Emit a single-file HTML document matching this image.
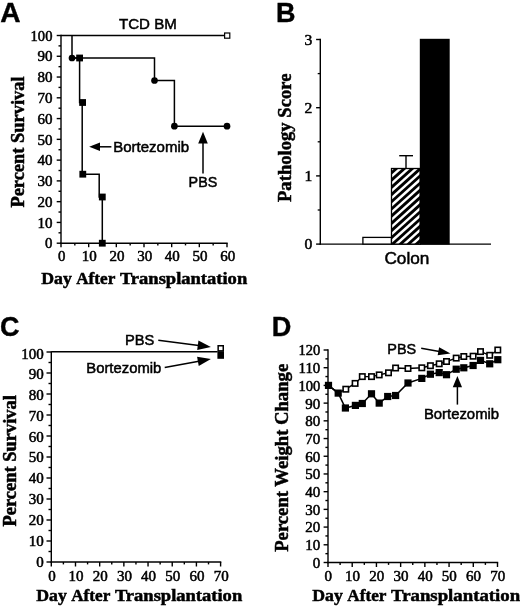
<!DOCTYPE html>
<html><head><meta charset="utf-8"><title>Figure</title>
<style>html,body{margin:0;padding:0;background:#fff;overflow:hidden}svg{display:block;will-change:transform}text{fill:#000}</style>
</head><body>
<svg width="520" height="607" viewBox="0 0 520 607">
<defs>
</defs>
<rect x="0" y="0" width="520" height="607" fill="#fff"/>
<g>
<!-- Panel A -->
<text x="0.30" y="22.40" font-family="Liberation Sans" font-size="27.5" font-weight="bold" text-anchor="start" stroke="#000" stroke-width="0.4" textLength="20.30" lengthAdjust="spacingAndGlyphs" >A</text>
<line x1="61.00" y1="34.80" x2="61.00" y2="243.90" stroke="#000" stroke-width="1.4" stroke-linecap="butt"/>
<line x1="60.30" y1="243.20" x2="227.70" y2="243.20" stroke="#000" stroke-width="1.4" stroke-linecap="butt"/>
<line x1="56.70" y1="243.20" x2="61.00" y2="243.20" stroke="#000" stroke-width="1.4" stroke-linecap="butt"/>
<text x="52.40" y="248.40" font-family="Liberation Serif" font-size="14" font-weight="normal" text-anchor="end" stroke="#000" stroke-width="0.5" textLength="7.40" lengthAdjust="spacingAndGlyphs" >0</text>
<line x1="58.50" y1="232.81" x2="61.00" y2="232.81" stroke="#000" stroke-width="1.4" stroke-linecap="butt"/>
<line x1="56.70" y1="222.43" x2="61.00" y2="222.43" stroke="#000" stroke-width="1.4" stroke-linecap="butt"/>
<text x="52.40" y="227.63" font-family="Liberation Serif" font-size="14" font-weight="normal" text-anchor="end" stroke="#000" stroke-width="0.5" textLength="15.00" lengthAdjust="spacingAndGlyphs" >10</text>
<line x1="58.50" y1="212.04" x2="61.00" y2="212.04" stroke="#000" stroke-width="1.4" stroke-linecap="butt"/>
<line x1="56.70" y1="201.66" x2="61.00" y2="201.66" stroke="#000" stroke-width="1.4" stroke-linecap="butt"/>
<text x="52.40" y="206.86" font-family="Liberation Serif" font-size="14" font-weight="normal" text-anchor="end" stroke="#000" stroke-width="0.5" textLength="15.00" lengthAdjust="spacingAndGlyphs" >20</text>
<line x1="58.50" y1="191.27" x2="61.00" y2="191.27" stroke="#000" stroke-width="1.4" stroke-linecap="butt"/>
<line x1="56.70" y1="180.89" x2="61.00" y2="180.89" stroke="#000" stroke-width="1.4" stroke-linecap="butt"/>
<text x="52.40" y="186.09" font-family="Liberation Serif" font-size="14" font-weight="normal" text-anchor="end" stroke="#000" stroke-width="0.5" textLength="15.00" lengthAdjust="spacingAndGlyphs" >30</text>
<line x1="58.50" y1="170.50" x2="61.00" y2="170.50" stroke="#000" stroke-width="1.4" stroke-linecap="butt"/>
<line x1="56.70" y1="160.12" x2="61.00" y2="160.12" stroke="#000" stroke-width="1.4" stroke-linecap="butt"/>
<text x="52.40" y="165.32" font-family="Liberation Serif" font-size="14" font-weight="normal" text-anchor="end" stroke="#000" stroke-width="0.5" textLength="15.00" lengthAdjust="spacingAndGlyphs" >40</text>
<line x1="58.50" y1="149.73" x2="61.00" y2="149.73" stroke="#000" stroke-width="1.4" stroke-linecap="butt"/>
<line x1="56.70" y1="139.35" x2="61.00" y2="139.35" stroke="#000" stroke-width="1.4" stroke-linecap="butt"/>
<text x="52.40" y="144.55" font-family="Liberation Serif" font-size="14" font-weight="normal" text-anchor="end" stroke="#000" stroke-width="0.5" textLength="15.00" lengthAdjust="spacingAndGlyphs" >50</text>
<line x1="58.50" y1="128.96" x2="61.00" y2="128.96" stroke="#000" stroke-width="1.4" stroke-linecap="butt"/>
<line x1="56.70" y1="118.58" x2="61.00" y2="118.58" stroke="#000" stroke-width="1.4" stroke-linecap="butt"/>
<text x="52.40" y="123.78" font-family="Liberation Serif" font-size="14" font-weight="normal" text-anchor="end" stroke="#000" stroke-width="0.5" textLength="15.00" lengthAdjust="spacingAndGlyphs" >60</text>
<line x1="58.50" y1="108.19" x2="61.00" y2="108.19" stroke="#000" stroke-width="1.4" stroke-linecap="butt"/>
<line x1="56.70" y1="97.81" x2="61.00" y2="97.81" stroke="#000" stroke-width="1.4" stroke-linecap="butt"/>
<text x="52.40" y="103.01" font-family="Liberation Serif" font-size="14" font-weight="normal" text-anchor="end" stroke="#000" stroke-width="0.5" textLength="15.00" lengthAdjust="spacingAndGlyphs" >70</text>
<line x1="58.50" y1="87.42" x2="61.00" y2="87.42" stroke="#000" stroke-width="1.4" stroke-linecap="butt"/>
<line x1="56.70" y1="77.04" x2="61.00" y2="77.04" stroke="#000" stroke-width="1.4" stroke-linecap="butt"/>
<text x="52.40" y="82.24" font-family="Liberation Serif" font-size="14" font-weight="normal" text-anchor="end" stroke="#000" stroke-width="0.5" textLength="15.00" lengthAdjust="spacingAndGlyphs" >80</text>
<line x1="58.50" y1="66.66" x2="61.00" y2="66.66" stroke="#000" stroke-width="1.4" stroke-linecap="butt"/>
<line x1="56.70" y1="56.27" x2="61.00" y2="56.27" stroke="#000" stroke-width="1.4" stroke-linecap="butt"/>
<text x="52.40" y="61.47" font-family="Liberation Serif" font-size="14" font-weight="normal" text-anchor="end" stroke="#000" stroke-width="0.5" textLength="15.00" lengthAdjust="spacingAndGlyphs" >90</text>
<line x1="58.50" y1="45.88" x2="61.00" y2="45.88" stroke="#000" stroke-width="1.4" stroke-linecap="butt"/>
<line x1="56.70" y1="35.50" x2="61.00" y2="35.50" stroke="#000" stroke-width="1.4" stroke-linecap="butt"/>
<text x="52.40" y="40.70" font-family="Liberation Serif" font-size="14" font-weight="normal" text-anchor="end" stroke="#000" stroke-width="0.5" textLength="21.80" lengthAdjust="spacingAndGlyphs" >100</text>
<line x1="61.00" y1="243.20" x2="61.00" y2="247.20" stroke="#000" stroke-width="1.4" stroke-linecap="butt"/>
<text x="61.70" y="261.10" font-family="Liberation Serif" font-size="14" font-weight="normal" text-anchor="middle" stroke="#000" stroke-width="0.5" textLength="7.40" lengthAdjust="spacingAndGlyphs" >0</text>
<line x1="74.83" y1="243.20" x2="74.83" y2="245.40" stroke="#000" stroke-width="1.4" stroke-linecap="butt"/>
<line x1="88.67" y1="243.20" x2="88.67" y2="247.20" stroke="#000" stroke-width="1.4" stroke-linecap="butt"/>
<text x="89.37" y="261.10" font-family="Liberation Serif" font-size="14" font-weight="normal" text-anchor="middle" stroke="#000" stroke-width="0.5" textLength="15.00" lengthAdjust="spacingAndGlyphs" >10</text>
<line x1="102.50" y1="243.20" x2="102.50" y2="245.40" stroke="#000" stroke-width="1.4" stroke-linecap="butt"/>
<line x1="116.33" y1="243.20" x2="116.33" y2="247.20" stroke="#000" stroke-width="1.4" stroke-linecap="butt"/>
<text x="117.03" y="261.10" font-family="Liberation Serif" font-size="14" font-weight="normal" text-anchor="middle" stroke="#000" stroke-width="0.5" textLength="15.00" lengthAdjust="spacingAndGlyphs" >20</text>
<line x1="130.17" y1="243.20" x2="130.17" y2="245.40" stroke="#000" stroke-width="1.4" stroke-linecap="butt"/>
<line x1="144.00" y1="243.20" x2="144.00" y2="247.20" stroke="#000" stroke-width="1.4" stroke-linecap="butt"/>
<text x="144.70" y="261.10" font-family="Liberation Serif" font-size="14" font-weight="normal" text-anchor="middle" stroke="#000" stroke-width="0.5" textLength="15.00" lengthAdjust="spacingAndGlyphs" >30</text>
<line x1="157.83" y1="243.20" x2="157.83" y2="245.40" stroke="#000" stroke-width="1.4" stroke-linecap="butt"/>
<line x1="171.67" y1="243.20" x2="171.67" y2="247.20" stroke="#000" stroke-width="1.4" stroke-linecap="butt"/>
<text x="172.37" y="261.10" font-family="Liberation Serif" font-size="14" font-weight="normal" text-anchor="middle" stroke="#000" stroke-width="0.5" textLength="15.00" lengthAdjust="spacingAndGlyphs" >40</text>
<line x1="185.50" y1="243.20" x2="185.50" y2="245.40" stroke="#000" stroke-width="1.4" stroke-linecap="butt"/>
<line x1="199.33" y1="243.20" x2="199.33" y2="247.20" stroke="#000" stroke-width="1.4" stroke-linecap="butt"/>
<text x="200.03" y="261.10" font-family="Liberation Serif" font-size="14" font-weight="normal" text-anchor="middle" stroke="#000" stroke-width="0.5" textLength="15.00" lengthAdjust="spacingAndGlyphs" >50</text>
<line x1="213.17" y1="243.20" x2="213.17" y2="245.40" stroke="#000" stroke-width="1.4" stroke-linecap="butt"/>
<line x1="227.00" y1="243.20" x2="227.00" y2="247.20" stroke="#000" stroke-width="1.4" stroke-linecap="butt"/>
<text x="227.70" y="261.10" font-family="Liberation Serif" font-size="14" font-weight="normal" text-anchor="middle" stroke="#000" stroke-width="0.5" textLength="15.00" lengthAdjust="spacingAndGlyphs" >60</text>
<line x1="61.00" y1="35.50" x2="224.00" y2="35.50" stroke="#000" stroke-width="1.5" stroke-linecap="butt"/>
<rect x="224.60" y="33.00" width="5.20" height="5.20" fill="#fff" stroke="#000" stroke-width="1.2"/>
<text x="119.00" y="29.20" font-family="Liberation Sans" font-size="15" font-weight="normal" text-anchor="start" stroke="#000" stroke-width="0.5" textLength="57.80" lengthAdjust="spacingAndGlyphs" >TCD BM</text>
<polyline fill="none" stroke="#000" stroke-width="1.5" stroke-linejoin="miter" points="72.00,35.50 72.00,58.00 154.50,58.00 154.50,80.50 174.40,80.50 174.40,126.20 227.00,126.20"/>
<circle cx="72.00" cy="58.00" r="3.35" fill="#000"/>
<circle cx="154.50" cy="80.50" r="3.35" fill="#000"/>
<circle cx="174.40" cy="126.20" r="3.35" fill="#000"/>
<circle cx="227.00" cy="126.20" r="3.35" fill="#000"/>
<polyline fill="none" stroke="#000" stroke-width="1.5" stroke-linejoin="miter" points="72.00,58.00 79.60,58.00 79.60,102.50 82.20,102.50 82.20,174.20 99.20,174.20 99.20,197.00 102.30,197.00 102.30,243.20"/>
<rect x="76.20" y="54.60" width="6.80" height="6.80" fill="#000"/>
<rect x="79.20" y="99.10" width="6.80" height="6.80" fill="#000"/>
<rect x="79.40" y="170.80" width="6.80" height="6.80" fill="#000"/>
<rect x="98.90" y="193.60" width="6.80" height="6.80" fill="#000"/>
<rect x="98.90" y="239.80" width="6.80" height="6.80" fill="#000"/>
<line x1="111.40" y1="146.80" x2="99.00" y2="146.80" stroke="#000" stroke-width="1.5" stroke-linecap="butt"/>
<polygon points="89.20,146.80 100.00,142.50 100.00,151.10" fill="#000"/>
<text x="113.20" y="152.00" font-family="Liberation Sans" font-size="15" font-weight="normal" text-anchor="start" stroke="#000" stroke-width="0.5" textLength="76.00" lengthAdjust="spacingAndGlyphs" >Bortezomib</text>
<line x1="203.00" y1="173.60" x2="203.00" y2="142.50" stroke="#000" stroke-width="1.5" stroke-linecap="butt"/>
<polygon points="203.00,131.80 207.80,143.50 198.20,143.50" fill="#000"/>
<text x="188.60" y="187.30" font-family="Liberation Sans" font-size="15" font-weight="normal" text-anchor="start" stroke="#000" stroke-width="0.5" textLength="28.60" lengthAdjust="spacingAndGlyphs" >PBS</text>
<text x="41.20" y="283.60" font-family="Liberation Serif" font-size="17.2" font-weight="bold" text-anchor="start" stroke="#000" stroke-width="0.5" textLength="30.60" lengthAdjust="spacingAndGlyphs" >Day</text>
<text x="76.20" y="283.60" font-family="Liberation Serif" font-size="17.2" font-weight="bold" text-anchor="start" stroke="#000" stroke-width="0.5" textLength="39.10" lengthAdjust="spacingAndGlyphs" >After</text>
<text x="119.90" y="283.60" font-family="Liberation Serif" font-size="17.2" font-weight="bold" text-anchor="start" stroke="#000" stroke-width="0.5" textLength="127.30" lengthAdjust="spacingAndGlyphs" >Transplantation</text>
<text transform="translate(24.20,207.60) rotate(-90)" x="0" y="0" font-family="Liberation Serif" font-size="19.2" font-weight="bold" stroke="#000" stroke-width="0.5" textLength="131.20" lengthAdjust="spacingAndGlyphs">Percent Survival</text>
<!-- Panel B -->
<text x="275.90" y="22.40" font-family="Liberation Sans" font-size="27.5" font-weight="bold" text-anchor="start" stroke="#000" stroke-width="0.4" textLength="19.50" lengthAdjust="spacingAndGlyphs" >B</text>
<line x1="320.30" y1="38.80" x2="320.30" y2="244.80" stroke="#000" stroke-width="1.4" stroke-linecap="butt"/>
<line x1="319.60" y1="244.10" x2="491.00" y2="244.10" stroke="#000" stroke-width="1.4" stroke-linecap="butt"/>
<line x1="316.10" y1="244.10" x2="320.30" y2="244.10" stroke="#000" stroke-width="1.4" stroke-linecap="butt"/>
<text x="312.20" y="249.40" font-family="Liberation Serif" font-size="14.5" font-weight="normal" text-anchor="end" stroke="#000" stroke-width="0.5" textLength="7.80" lengthAdjust="spacingAndGlyphs" >0</text>
<line x1="317.70" y1="210.00" x2="320.30" y2="210.00" stroke="#000" stroke-width="1.3" stroke-linecap="butt"/>
<line x1="316.10" y1="175.90" x2="320.30" y2="175.90" stroke="#000" stroke-width="1.4" stroke-linecap="butt"/>
<text x="312.20" y="181.20" font-family="Liberation Serif" font-size="14.5" font-weight="normal" text-anchor="end" stroke="#000" stroke-width="0.5" textLength="7.80" lengthAdjust="spacingAndGlyphs" >1</text>
<line x1="317.70" y1="141.80" x2="320.30" y2="141.80" stroke="#000" stroke-width="1.3" stroke-linecap="butt"/>
<line x1="316.10" y1="107.70" x2="320.30" y2="107.70" stroke="#000" stroke-width="1.4" stroke-linecap="butt"/>
<text x="312.20" y="113.00" font-family="Liberation Serif" font-size="14.5" font-weight="normal" text-anchor="end" stroke="#000" stroke-width="0.5" textLength="7.80" lengthAdjust="spacingAndGlyphs" >2</text>
<line x1="317.70" y1="73.60" x2="320.30" y2="73.60" stroke="#000" stroke-width="1.3" stroke-linecap="butt"/>
<line x1="316.10" y1="39.50" x2="320.30" y2="39.50" stroke="#000" stroke-width="1.4" stroke-linecap="butt"/>
<text x="312.20" y="44.80" font-family="Liberation Serif" font-size="14.5" font-weight="normal" text-anchor="end" stroke="#000" stroke-width="0.5" textLength="7.80" lengthAdjust="spacingAndGlyphs" >3</text>
<rect x="362.9" y="237.4" width="28.6" height="6.70" fill="#fff" stroke="#000" stroke-width="1.3"/>
<clipPath id="hc"><rect x="391.5" y="168.5" width="28.7" height="75.60"/></clipPath>
<rect x="391.5" y="168.5" width="28.7" height="75.60" fill="#000"/>
<g clip-path="url(#hc)" stroke="#fff" stroke-width="2.45"><line x1="387.58" y1="158.45" x2="424.74" y2="124.99"/><line x1="387.58" y1="165.65" x2="424.74" y2="132.19"/><line x1="387.58" y1="172.85" x2="424.74" y2="139.39"/><line x1="387.58" y1="180.05" x2="424.74" y2="146.59"/><line x1="387.58" y1="187.25" x2="424.74" y2="153.79"/><line x1="387.58" y1="194.45" x2="424.74" y2="160.99"/><line x1="387.58" y1="201.65" x2="424.74" y2="168.19"/><line x1="387.58" y1="208.85" x2="424.74" y2="175.39"/><line x1="387.58" y1="216.05" x2="424.74" y2="182.59"/><line x1="387.58" y1="223.25" x2="424.74" y2="189.79"/><line x1="387.58" y1="230.45" x2="424.74" y2="196.99"/><line x1="387.58" y1="237.65" x2="424.74" y2="204.19"/><line x1="387.58" y1="244.85" x2="424.74" y2="211.39"/><line x1="387.58" y1="252.05" x2="424.74" y2="218.59"/><line x1="387.58" y1="259.25" x2="424.74" y2="225.79"/><line x1="387.58" y1="266.45" x2="424.74" y2="232.99"/><line x1="387.58" y1="273.65" x2="424.74" y2="240.19"/><line x1="387.58" y1="280.85" x2="424.74" y2="247.39"/><line x1="387.58" y1="288.05" x2="424.74" y2="254.59"/></g>
<rect x="391.5" y="168.5" width="28.7" height="75.60" fill="none" stroke="#000" stroke-width="1.3"/>
<rect x="419.8" y="38.8" width="29.9" height="205.80" fill="#000"/>
<line x1="406.00" y1="168.50" x2="406.00" y2="155.70" stroke="#000" stroke-width="1.4" stroke-linecap="butt"/>
<line x1="399.20" y1="155.70" x2="413.00" y2="155.70" stroke="#000" stroke-width="1.4" stroke-linecap="butt"/>
<text x="384.40" y="264.30" font-family="Liberation Sans" font-size="17" font-weight="normal" text-anchor="start" stroke="#000" stroke-width="0.5" textLength="45.00" lengthAdjust="spacingAndGlyphs" >Colon</text>
<text transform="translate(291.10,202.00) rotate(-90)" x="0" y="0" font-family="Liberation Serif" font-size="18.5" font-weight="bold" stroke="#000" stroke-width="0.5" textLength="128.40" lengthAdjust="spacingAndGlyphs">Pathology Score</text>
<!-- Panel C -->
<text x="-0.10" y="336.10" font-family="Liberation Sans" font-size="27.5" font-weight="bold" text-anchor="start" stroke="#000" stroke-width="0.4" textLength="19.50" lengthAdjust="spacingAndGlyphs" >C</text>
<line x1="51.30" y1="351.30" x2="51.30" y2="562.70" stroke="#000" stroke-width="1.4" stroke-linecap="butt"/>
<line x1="50.60" y1="562.00" x2="221.30" y2="562.00" stroke="#000" stroke-width="1.4" stroke-linecap="butt"/>
<line x1="46.50" y1="562.00" x2="51.30" y2="562.00" stroke="#000" stroke-width="1.4" stroke-linecap="butt"/>
<text x="43.80" y="567.00" font-family="Liberation Serif" font-size="14" font-weight="normal" text-anchor="end" stroke="#000" stroke-width="0.5" textLength="7.50" lengthAdjust="spacingAndGlyphs" >0</text>
<line x1="48.50" y1="551.50" x2="51.30" y2="551.50" stroke="#000" stroke-width="1.4" stroke-linecap="butt"/>
<line x1="46.50" y1="541.00" x2="51.30" y2="541.00" stroke="#000" stroke-width="1.4" stroke-linecap="butt"/>
<text x="43.80" y="546.00" font-family="Liberation Serif" font-size="14" font-weight="normal" text-anchor="end" stroke="#000" stroke-width="0.5" textLength="15.00" lengthAdjust="spacingAndGlyphs" >10</text>
<line x1="48.50" y1="530.50" x2="51.30" y2="530.50" stroke="#000" stroke-width="1.4" stroke-linecap="butt"/>
<line x1="46.50" y1="520.00" x2="51.30" y2="520.00" stroke="#000" stroke-width="1.4" stroke-linecap="butt"/>
<text x="43.80" y="525.00" font-family="Liberation Serif" font-size="14" font-weight="normal" text-anchor="end" stroke="#000" stroke-width="0.5" textLength="15.00" lengthAdjust="spacingAndGlyphs" >20</text>
<line x1="48.50" y1="509.50" x2="51.30" y2="509.50" stroke="#000" stroke-width="1.4" stroke-linecap="butt"/>
<line x1="46.50" y1="499.00" x2="51.30" y2="499.00" stroke="#000" stroke-width="1.4" stroke-linecap="butt"/>
<text x="43.80" y="504.00" font-family="Liberation Serif" font-size="14" font-weight="normal" text-anchor="end" stroke="#000" stroke-width="0.5" textLength="15.00" lengthAdjust="spacingAndGlyphs" >30</text>
<line x1="48.50" y1="488.50" x2="51.30" y2="488.50" stroke="#000" stroke-width="1.4" stroke-linecap="butt"/>
<line x1="46.50" y1="478.00" x2="51.30" y2="478.00" stroke="#000" stroke-width="1.4" stroke-linecap="butt"/>
<text x="43.80" y="483.00" font-family="Liberation Serif" font-size="14" font-weight="normal" text-anchor="end" stroke="#000" stroke-width="0.5" textLength="15.00" lengthAdjust="spacingAndGlyphs" >40</text>
<line x1="48.50" y1="467.50" x2="51.30" y2="467.50" stroke="#000" stroke-width="1.4" stroke-linecap="butt"/>
<line x1="46.50" y1="457.00" x2="51.30" y2="457.00" stroke="#000" stroke-width="1.4" stroke-linecap="butt"/>
<text x="43.80" y="462.45" font-family="Liberation Serif" font-size="14" font-weight="normal" text-anchor="end" stroke="#000" stroke-width="0.5" textLength="15.00" lengthAdjust="spacingAndGlyphs" >50</text>
<line x1="48.50" y1="446.50" x2="51.30" y2="446.50" stroke="#000" stroke-width="1.4" stroke-linecap="butt"/>
<line x1="46.50" y1="436.00" x2="51.30" y2="436.00" stroke="#000" stroke-width="1.4" stroke-linecap="butt"/>
<text x="43.80" y="441.90" font-family="Liberation Serif" font-size="14" font-weight="normal" text-anchor="end" stroke="#000" stroke-width="0.5" textLength="15.00" lengthAdjust="spacingAndGlyphs" >60</text>
<line x1="48.50" y1="425.50" x2="51.30" y2="425.50" stroke="#000" stroke-width="1.4" stroke-linecap="butt"/>
<line x1="46.50" y1="415.00" x2="51.30" y2="415.00" stroke="#000" stroke-width="1.4" stroke-linecap="butt"/>
<text x="43.80" y="420.90" font-family="Liberation Serif" font-size="14" font-weight="normal" text-anchor="end" stroke="#000" stroke-width="0.5" textLength="15.00" lengthAdjust="spacingAndGlyphs" >70</text>
<line x1="48.50" y1="404.50" x2="51.30" y2="404.50" stroke="#000" stroke-width="1.4" stroke-linecap="butt"/>
<line x1="46.50" y1="394.00" x2="51.30" y2="394.00" stroke="#000" stroke-width="1.4" stroke-linecap="butt"/>
<text x="43.80" y="399.90" font-family="Liberation Serif" font-size="14" font-weight="normal" text-anchor="end" stroke="#000" stroke-width="0.5" textLength="15.00" lengthAdjust="spacingAndGlyphs" >80</text>
<line x1="48.50" y1="383.50" x2="51.30" y2="383.50" stroke="#000" stroke-width="1.4" stroke-linecap="butt"/>
<line x1="46.50" y1="373.00" x2="51.30" y2="373.00" stroke="#000" stroke-width="1.4" stroke-linecap="butt"/>
<text x="43.80" y="378.90" font-family="Liberation Serif" font-size="14" font-weight="normal" text-anchor="end" stroke="#000" stroke-width="0.5" textLength="15.00" lengthAdjust="spacingAndGlyphs" >90</text>
<line x1="48.50" y1="362.50" x2="51.30" y2="362.50" stroke="#000" stroke-width="1.4" stroke-linecap="butt"/>
<line x1="46.50" y1="352.00" x2="51.30" y2="352.00" stroke="#000" stroke-width="1.4" stroke-linecap="butt"/>
<text x="43.80" y="358.90" font-family="Liberation Serif" font-size="14" font-weight="normal" text-anchor="end" stroke="#000" stroke-width="0.5" textLength="22.50" lengthAdjust="spacingAndGlyphs" >100</text>
<line x1="51.30" y1="562.00" x2="51.30" y2="566.50" stroke="#000" stroke-width="1.4" stroke-linecap="butt"/>
<text x="51.90" y="580.60" font-family="Liberation Serif" font-size="14" font-weight="normal" text-anchor="middle" stroke="#000" stroke-width="0.5" textLength="7.50" lengthAdjust="spacingAndGlyphs" >0</text>
<line x1="63.39" y1="562.00" x2="63.39" y2="564.40" stroke="#000" stroke-width="1.4" stroke-linecap="butt"/>
<line x1="75.49" y1="562.00" x2="75.49" y2="566.50" stroke="#000" stroke-width="1.4" stroke-linecap="butt"/>
<text x="76.09" y="580.60" font-family="Liberation Serif" font-size="14" font-weight="normal" text-anchor="middle" stroke="#000" stroke-width="0.5" textLength="15.00" lengthAdjust="spacingAndGlyphs" >10</text>
<line x1="87.58" y1="562.00" x2="87.58" y2="564.40" stroke="#000" stroke-width="1.4" stroke-linecap="butt"/>
<line x1="99.67" y1="562.00" x2="99.67" y2="566.50" stroke="#000" stroke-width="1.4" stroke-linecap="butt"/>
<text x="100.27" y="580.60" font-family="Liberation Serif" font-size="14" font-weight="normal" text-anchor="middle" stroke="#000" stroke-width="0.5" textLength="15.00" lengthAdjust="spacingAndGlyphs" >20</text>
<line x1="111.76" y1="562.00" x2="111.76" y2="564.40" stroke="#000" stroke-width="1.4" stroke-linecap="butt"/>
<line x1="123.86" y1="562.00" x2="123.86" y2="566.50" stroke="#000" stroke-width="1.4" stroke-linecap="butt"/>
<text x="124.46" y="580.60" font-family="Liberation Serif" font-size="14" font-weight="normal" text-anchor="middle" stroke="#000" stroke-width="0.5" textLength="15.00" lengthAdjust="spacingAndGlyphs" >30</text>
<line x1="135.95" y1="562.00" x2="135.95" y2="564.40" stroke="#000" stroke-width="1.4" stroke-linecap="butt"/>
<line x1="148.04" y1="562.00" x2="148.04" y2="566.50" stroke="#000" stroke-width="1.4" stroke-linecap="butt"/>
<text x="148.64" y="580.60" font-family="Liberation Serif" font-size="14" font-weight="normal" text-anchor="middle" stroke="#000" stroke-width="0.5" textLength="15.00" lengthAdjust="spacingAndGlyphs" >40</text>
<line x1="160.14" y1="562.00" x2="160.14" y2="564.40" stroke="#000" stroke-width="1.4" stroke-linecap="butt"/>
<line x1="172.23" y1="562.00" x2="172.23" y2="566.50" stroke="#000" stroke-width="1.4" stroke-linecap="butt"/>
<text x="172.83" y="580.60" font-family="Liberation Serif" font-size="14" font-weight="normal" text-anchor="middle" stroke="#000" stroke-width="0.5" textLength="15.00" lengthAdjust="spacingAndGlyphs" >50</text>
<line x1="184.32" y1="562.00" x2="184.32" y2="564.40" stroke="#000" stroke-width="1.4" stroke-linecap="butt"/>
<line x1="196.41" y1="562.00" x2="196.41" y2="566.50" stroke="#000" stroke-width="1.4" stroke-linecap="butt"/>
<text x="197.01" y="580.60" font-family="Liberation Serif" font-size="14" font-weight="normal" text-anchor="middle" stroke="#000" stroke-width="0.5" textLength="15.00" lengthAdjust="spacingAndGlyphs" >60</text>
<line x1="208.51" y1="562.00" x2="208.51" y2="564.40" stroke="#000" stroke-width="1.4" stroke-linecap="butt"/>
<line x1="220.60" y1="562.00" x2="220.60" y2="566.50" stroke="#000" stroke-width="1.4" stroke-linecap="butt"/>
<text x="221.20" y="580.60" font-family="Liberation Serif" font-size="14" font-weight="normal" text-anchor="middle" stroke="#000" stroke-width="0.5" textLength="15.00" lengthAdjust="spacingAndGlyphs" >70</text>
<line x1="51.30" y1="351.80" x2="217.50" y2="351.80" stroke="#000" stroke-width="1.6" stroke-linecap="butt"/>
<rect x="218.15" y="345.75" width="5.10" height="5.10" fill="#fff" stroke="#000" stroke-width="1.5"/>
<rect x="217.40" y="351.20" width="6.60" height="7.60" fill="#000"/>
<text x="125.00" y="345.00" font-family="Liberation Sans" font-size="15" font-weight="normal" text-anchor="start" stroke="#000" stroke-width="0.5" textLength="29.30" lengthAdjust="spacingAndGlyphs" >PBS</text>
<text x="86.30" y="372.60" font-family="Liberation Sans" font-size="15" font-weight="normal" text-anchor="start" stroke="#000" stroke-width="0.5" textLength="75.00" lengthAdjust="spacingAndGlyphs" >Bortezomib</text>
<line x1="158.30" y1="340.20" x2="198.80" y2="345.44" stroke="#000" stroke-width="1.5" stroke-linecap="butt"/>
<polygon points="210.90,347.00 197.20,350.02 198.42,340.60" fill="#000"/>
<line x1="164.70" y1="367.40" x2="198.89" y2="361.26" stroke="#000" stroke-width="1.5" stroke-linecap="butt"/>
<polygon points="210.90,359.10 198.75,366.11 197.07,356.76" fill="#000"/>
<text x="36.20" y="600.50" font-family="Liberation Serif" font-size="17.2" font-weight="bold" text-anchor="start" stroke="#000" stroke-width="0.5" textLength="30.60" lengthAdjust="spacingAndGlyphs" >Day</text>
<text x="71.20" y="600.50" font-family="Liberation Serif" font-size="17.2" font-weight="bold" text-anchor="start" stroke="#000" stroke-width="0.5" textLength="39.10" lengthAdjust="spacingAndGlyphs" >After</text>
<text x="114.90" y="600.50" font-family="Liberation Serif" font-size="17.2" font-weight="bold" text-anchor="start" stroke="#000" stroke-width="0.5" textLength="127.30" lengthAdjust="spacingAndGlyphs" >Transplantation</text>
<text transform="translate(15.50,526.60) rotate(-90)" x="0" y="0" font-family="Liberation Serif" font-size="17.8" font-weight="bold" stroke="#000" stroke-width="0.5" textLength="131.60" lengthAdjust="spacingAndGlyphs">Percent Survival</text>
<!-- Panel D -->
<text x="271.70" y="336.00" font-family="Liberation Sans" font-size="27.5" font-weight="bold" text-anchor="start" stroke="#000" stroke-width="0.4" textLength="19.60" lengthAdjust="spacingAndGlyphs" >D</text>
<line x1="328.00" y1="349.30" x2="328.00" y2="563.20" stroke="#000" stroke-width="1.4" stroke-linecap="butt"/>
<line x1="327.30" y1="562.50" x2="498.20" y2="562.50" stroke="#000" stroke-width="1.4" stroke-linecap="butt"/>
<line x1="323.60" y1="562.50" x2="328.00" y2="562.50" stroke="#000" stroke-width="1.4" stroke-linecap="butt"/>
<text x="320.30" y="567.90" font-family="Liberation Serif" font-size="14" font-weight="normal" text-anchor="end" stroke="#000" stroke-width="0.5" textLength="7.50" lengthAdjust="spacingAndGlyphs" >0</text>
<line x1="325.40" y1="553.65" x2="328.00" y2="553.65" stroke="#000" stroke-width="1.4" stroke-linecap="butt"/>
<line x1="323.60" y1="544.79" x2="328.00" y2="544.79" stroke="#000" stroke-width="1.4" stroke-linecap="butt"/>
<text x="320.30" y="550.19" font-family="Liberation Serif" font-size="14" font-weight="normal" text-anchor="end" stroke="#000" stroke-width="0.5" textLength="15.00" lengthAdjust="spacingAndGlyphs" >10</text>
<line x1="325.40" y1="535.94" x2="328.00" y2="535.94" stroke="#000" stroke-width="1.4" stroke-linecap="butt"/>
<line x1="323.60" y1="527.08" x2="328.00" y2="527.08" stroke="#000" stroke-width="1.4" stroke-linecap="butt"/>
<text x="320.30" y="532.48" font-family="Liberation Serif" font-size="14" font-weight="normal" text-anchor="end" stroke="#000" stroke-width="0.5" textLength="15.00" lengthAdjust="spacingAndGlyphs" >20</text>
<line x1="325.40" y1="518.23" x2="328.00" y2="518.23" stroke="#000" stroke-width="1.4" stroke-linecap="butt"/>
<line x1="323.60" y1="509.38" x2="328.00" y2="509.38" stroke="#000" stroke-width="1.4" stroke-linecap="butt"/>
<text x="320.30" y="514.77" font-family="Liberation Serif" font-size="14" font-weight="normal" text-anchor="end" stroke="#000" stroke-width="0.5" textLength="15.00" lengthAdjust="spacingAndGlyphs" >30</text>
<line x1="325.40" y1="500.52" x2="328.00" y2="500.52" stroke="#000" stroke-width="1.4" stroke-linecap="butt"/>
<line x1="323.60" y1="491.67" x2="328.00" y2="491.67" stroke="#000" stroke-width="1.4" stroke-linecap="butt"/>
<text x="320.30" y="497.07" font-family="Liberation Serif" font-size="14" font-weight="normal" text-anchor="end" stroke="#000" stroke-width="0.5" textLength="15.00" lengthAdjust="spacingAndGlyphs" >40</text>
<line x1="325.40" y1="482.81" x2="328.00" y2="482.81" stroke="#000" stroke-width="1.4" stroke-linecap="butt"/>
<line x1="323.60" y1="473.96" x2="328.00" y2="473.96" stroke="#000" stroke-width="1.4" stroke-linecap="butt"/>
<text x="320.30" y="479.36" font-family="Liberation Serif" font-size="14" font-weight="normal" text-anchor="end" stroke="#000" stroke-width="0.5" textLength="15.00" lengthAdjust="spacingAndGlyphs" >50</text>
<line x1="325.40" y1="465.10" x2="328.00" y2="465.10" stroke="#000" stroke-width="1.4" stroke-linecap="butt"/>
<line x1="323.60" y1="456.25" x2="328.00" y2="456.25" stroke="#000" stroke-width="1.4" stroke-linecap="butt"/>
<text x="320.30" y="461.65" font-family="Liberation Serif" font-size="14" font-weight="normal" text-anchor="end" stroke="#000" stroke-width="0.5" textLength="15.00" lengthAdjust="spacingAndGlyphs" >60</text>
<line x1="325.40" y1="447.40" x2="328.00" y2="447.40" stroke="#000" stroke-width="1.4" stroke-linecap="butt"/>
<line x1="323.60" y1="438.54" x2="328.00" y2="438.54" stroke="#000" stroke-width="1.4" stroke-linecap="butt"/>
<text x="320.30" y="443.94" font-family="Liberation Serif" font-size="14" font-weight="normal" text-anchor="end" stroke="#000" stroke-width="0.5" textLength="15.00" lengthAdjust="spacingAndGlyphs" >70</text>
<line x1="325.40" y1="429.69" x2="328.00" y2="429.69" stroke="#000" stroke-width="1.4" stroke-linecap="butt"/>
<line x1="323.60" y1="420.83" x2="328.00" y2="420.83" stroke="#000" stroke-width="1.4" stroke-linecap="butt"/>
<text x="320.30" y="426.23" font-family="Liberation Serif" font-size="14" font-weight="normal" text-anchor="end" stroke="#000" stroke-width="0.5" textLength="15.00" lengthAdjust="spacingAndGlyphs" >80</text>
<line x1="325.40" y1="411.98" x2="328.00" y2="411.98" stroke="#000" stroke-width="1.4" stroke-linecap="butt"/>
<line x1="323.60" y1="403.12" x2="328.00" y2="403.12" stroke="#000" stroke-width="1.4" stroke-linecap="butt"/>
<text x="320.30" y="408.52" font-family="Liberation Serif" font-size="14" font-weight="normal" text-anchor="end" stroke="#000" stroke-width="0.5" textLength="15.00" lengthAdjust="spacingAndGlyphs" >90</text>
<line x1="325.40" y1="394.27" x2="328.00" y2="394.27" stroke="#000" stroke-width="1.4" stroke-linecap="butt"/>
<line x1="323.60" y1="385.42" x2="328.00" y2="385.42" stroke="#000" stroke-width="1.4" stroke-linecap="butt"/>
<text x="320.30" y="390.82" font-family="Liberation Serif" font-size="14" font-weight="normal" text-anchor="end" stroke="#000" stroke-width="0.5" textLength="21.80" lengthAdjust="spacingAndGlyphs" >100</text>
<line x1="325.40" y1="376.56" x2="328.00" y2="376.56" stroke="#000" stroke-width="1.4" stroke-linecap="butt"/>
<line x1="323.60" y1="367.71" x2="328.00" y2="367.71" stroke="#000" stroke-width="1.4" stroke-linecap="butt"/>
<text x="320.30" y="373.11" font-family="Liberation Serif" font-size="14" font-weight="normal" text-anchor="end" stroke="#000" stroke-width="0.5" textLength="21.80" lengthAdjust="spacingAndGlyphs" >110</text>
<line x1="325.40" y1="358.85" x2="328.00" y2="358.85" stroke="#000" stroke-width="1.4" stroke-linecap="butt"/>
<line x1="323.60" y1="350.00" x2="328.00" y2="350.00" stroke="#000" stroke-width="1.4" stroke-linecap="butt"/>
<text x="320.30" y="355.40" font-family="Liberation Serif" font-size="14" font-weight="normal" text-anchor="end" stroke="#000" stroke-width="0.5" textLength="21.80" lengthAdjust="spacingAndGlyphs" >120</text>
<line x1="328.00" y1="562.50" x2="328.00" y2="567.00" stroke="#000" stroke-width="1.4" stroke-linecap="butt"/>
<text x="328.30" y="581.40" font-family="Liberation Serif" font-size="14" font-weight="normal" text-anchor="middle" stroke="#000" stroke-width="0.5" textLength="7.50" lengthAdjust="spacingAndGlyphs" >0</text>
<line x1="340.11" y1="562.50" x2="340.11" y2="564.90" stroke="#000" stroke-width="1.4" stroke-linecap="butt"/>
<line x1="352.21" y1="562.50" x2="352.21" y2="567.00" stroke="#000" stroke-width="1.4" stroke-linecap="butt"/>
<text x="352.51" y="581.40" font-family="Liberation Serif" font-size="14" font-weight="normal" text-anchor="middle" stroke="#000" stroke-width="0.5" textLength="15.00" lengthAdjust="spacingAndGlyphs" >10</text>
<line x1="364.32" y1="562.50" x2="364.32" y2="564.90" stroke="#000" stroke-width="1.4" stroke-linecap="butt"/>
<line x1="376.43" y1="562.50" x2="376.43" y2="567.00" stroke="#000" stroke-width="1.4" stroke-linecap="butt"/>
<text x="376.73" y="581.40" font-family="Liberation Serif" font-size="14" font-weight="normal" text-anchor="middle" stroke="#000" stroke-width="0.5" textLength="15.00" lengthAdjust="spacingAndGlyphs" >20</text>
<line x1="388.54" y1="562.50" x2="388.54" y2="564.90" stroke="#000" stroke-width="1.4" stroke-linecap="butt"/>
<line x1="400.64" y1="562.50" x2="400.64" y2="567.00" stroke="#000" stroke-width="1.4" stroke-linecap="butt"/>
<text x="400.94" y="581.40" font-family="Liberation Serif" font-size="14" font-weight="normal" text-anchor="middle" stroke="#000" stroke-width="0.5" textLength="15.00" lengthAdjust="spacingAndGlyphs" >30</text>
<line x1="412.75" y1="562.50" x2="412.75" y2="564.90" stroke="#000" stroke-width="1.4" stroke-linecap="butt"/>
<line x1="424.86" y1="562.50" x2="424.86" y2="567.00" stroke="#000" stroke-width="1.4" stroke-linecap="butt"/>
<text x="425.16" y="581.40" font-family="Liberation Serif" font-size="14" font-weight="normal" text-anchor="middle" stroke="#000" stroke-width="0.5" textLength="15.00" lengthAdjust="spacingAndGlyphs" >40</text>
<line x1="436.96" y1="562.50" x2="436.96" y2="564.90" stroke="#000" stroke-width="1.4" stroke-linecap="butt"/>
<line x1="449.07" y1="562.50" x2="449.07" y2="567.00" stroke="#000" stroke-width="1.4" stroke-linecap="butt"/>
<text x="449.37" y="581.40" font-family="Liberation Serif" font-size="14" font-weight="normal" text-anchor="middle" stroke="#000" stroke-width="0.5" textLength="15.00" lengthAdjust="spacingAndGlyphs" >50</text>
<line x1="461.18" y1="562.50" x2="461.18" y2="564.90" stroke="#000" stroke-width="1.4" stroke-linecap="butt"/>
<line x1="473.29" y1="562.50" x2="473.29" y2="567.00" stroke="#000" stroke-width="1.4" stroke-linecap="butt"/>
<text x="473.59" y="581.40" font-family="Liberation Serif" font-size="14" font-weight="normal" text-anchor="middle" stroke="#000" stroke-width="0.5" textLength="15.00" lengthAdjust="spacingAndGlyphs" >60</text>
<line x1="485.39" y1="562.50" x2="485.39" y2="564.90" stroke="#000" stroke-width="1.4" stroke-linecap="butt"/>
<line x1="497.50" y1="562.50" x2="497.50" y2="567.00" stroke="#000" stroke-width="1.4" stroke-linecap="butt"/>
<text x="497.80" y="581.40" font-family="Liberation Serif" font-size="14" font-weight="normal" text-anchor="middle" stroke="#000" stroke-width="0.5" textLength="15.00" lengthAdjust="spacingAndGlyphs" >70</text>
<polyline fill="none" stroke="#000" stroke-width="1.4" stroke-linejoin="miter" points="328.50,385.40 338.20,393.10 345.80,389.20 355.10,383.40 362.30,376.60 371.50,376.60 379.20,374.90 388.50,372.80 395.60,368.00 408.00,368.50 421.80,367.80 430.40,365.70 439.20,363.80 446.50,361.50 456.20,358.10 463.80,356.50 473.10,356.20 480.50,351.60 489.70,355.30 497.80,350.00"/>
<rect x="343.10" y="386.50" width="5.40" height="5.40" fill="#fff" stroke="#000" stroke-width="1.6"/>
<rect x="352.40" y="380.70" width="5.40" height="5.40" fill="#fff" stroke="#000" stroke-width="1.6"/>
<rect x="359.60" y="373.90" width="5.40" height="5.40" fill="#fff" stroke="#000" stroke-width="1.6"/>
<rect x="368.80" y="373.90" width="5.40" height="5.40" fill="#fff" stroke="#000" stroke-width="1.6"/>
<rect x="376.50" y="372.20" width="5.40" height="5.40" fill="#fff" stroke="#000" stroke-width="1.6"/>
<rect x="385.80" y="370.10" width="5.40" height="5.40" fill="#fff" stroke="#000" stroke-width="1.6"/>
<rect x="392.90" y="365.30" width="5.40" height="5.40" fill="#fff" stroke="#000" stroke-width="1.6"/>
<rect x="405.30" y="365.80" width="5.40" height="5.40" fill="#fff" stroke="#000" stroke-width="1.6"/>
<rect x="419.10" y="365.10" width="5.40" height="5.40" fill="#fff" stroke="#000" stroke-width="1.6"/>
<rect x="427.70" y="363.00" width="5.40" height="5.40" fill="#fff" stroke="#000" stroke-width="1.6"/>
<rect x="436.50" y="361.10" width="5.40" height="5.40" fill="#fff" stroke="#000" stroke-width="1.6"/>
<rect x="443.80" y="358.80" width="5.40" height="5.40" fill="#fff" stroke="#000" stroke-width="1.6"/>
<rect x="453.50" y="355.40" width="5.40" height="5.40" fill="#fff" stroke="#000" stroke-width="1.6"/>
<rect x="461.10" y="353.80" width="5.40" height="5.40" fill="#fff" stroke="#000" stroke-width="1.6"/>
<rect x="470.40" y="353.50" width="5.40" height="5.40" fill="#fff" stroke="#000" stroke-width="1.6"/>
<rect x="477.80" y="348.90" width="5.40" height="5.40" fill="#fff" stroke="#000" stroke-width="1.6"/>
<rect x="487.00" y="352.60" width="5.40" height="5.40" fill="#fff" stroke="#000" stroke-width="1.6"/>
<rect x="495.10" y="347.30" width="5.40" height="5.40" fill="#fff" stroke="#000" stroke-width="1.6"/>
<polyline fill="none" stroke="#000" stroke-width="1.5" stroke-linejoin="miter" points="328.50,385.40 338.20,393.10 345.40,408.00 355.40,405.40 362.30,403.50 371.50,393.80 379.20,403.10 387.70,396.50 395.60,395.50 408.00,383.00 421.80,378.40 430.40,374.20 439.20,372.60 446.50,374.70 456.20,369.20 463.80,367.80 473.10,365.50 480.50,360.40 489.70,363.80 497.80,359.70"/>
<rect x="324.90" y="381.80" width="7.20" height="7.20" fill="#000"/>
<rect x="334.60" y="389.50" width="7.20" height="7.20" fill="#000"/>
<rect x="341.80" y="404.40" width="7.20" height="7.20" fill="#000"/>
<rect x="351.80" y="401.80" width="7.20" height="7.20" fill="#000"/>
<rect x="358.70" y="399.90" width="7.20" height="7.20" fill="#000"/>
<rect x="367.90" y="390.20" width="7.20" height="7.20" fill="#000"/>
<rect x="375.60" y="399.50" width="7.20" height="7.20" fill="#000"/>
<rect x="384.10" y="392.90" width="7.20" height="7.20" fill="#000"/>
<rect x="392.00" y="391.90" width="7.20" height="7.20" fill="#000"/>
<rect x="404.40" y="379.40" width="7.20" height="7.20" fill="#000"/>
<rect x="418.20" y="374.80" width="7.20" height="7.20" fill="#000"/>
<rect x="426.80" y="370.60" width="7.20" height="7.20" fill="#000"/>
<rect x="435.60" y="369.00" width="7.20" height="7.20" fill="#000"/>
<rect x="442.90" y="371.10" width="7.20" height="7.20" fill="#000"/>
<rect x="452.60" y="365.60" width="7.20" height="7.20" fill="#000"/>
<rect x="460.20" y="364.20" width="7.20" height="7.20" fill="#000"/>
<rect x="469.50" y="361.90" width="7.20" height="7.20" fill="#000"/>
<rect x="476.90" y="356.80" width="7.20" height="7.20" fill="#000"/>
<rect x="486.10" y="360.20" width="7.20" height="7.20" fill="#000"/>
<rect x="494.20" y="356.10" width="7.20" height="7.20" fill="#000"/>
<text x="387.30" y="353.60" font-family="Liberation Sans" font-size="15" font-weight="normal" text-anchor="start" stroke="#000" stroke-width="0.5" textLength="28.90" lengthAdjust="spacingAndGlyphs" >PBS</text>
<line x1="421.20" y1="348.20" x2="439.38" y2="351.49" stroke="#000" stroke-width="1.5" stroke-linecap="butt"/>
<polygon points="450.50,353.50 437.67,355.35 439.13,347.28" fill="#000"/>
<text x="423.90" y="419.30" font-family="Liberation Sans" font-size="15" font-weight="normal" text-anchor="start" stroke="#000" stroke-width="0.5" textLength="75.20" lengthAdjust="spacingAndGlyphs" >Bortezomib</text>
<line x1="457.40" y1="404.60" x2="457.40" y2="386.30" stroke="#000" stroke-width="1.5" stroke-linecap="butt"/>
<polygon points="457.40,376.10 462.05,387.30 452.75,387.30" fill="#000"/>
<text x="312.30" y="601.00" font-family="Liberation Serif" font-size="17.2" font-weight="bold" text-anchor="start" stroke="#000" stroke-width="0.5" textLength="30.60" lengthAdjust="spacingAndGlyphs" >Day</text>
<text x="347.30" y="601.00" font-family="Liberation Serif" font-size="17.2" font-weight="bold" text-anchor="start" stroke="#000" stroke-width="0.5" textLength="39.10" lengthAdjust="spacingAndGlyphs" >After</text>
<text x="391.00" y="601.00" font-family="Liberation Serif" font-size="17.2" font-weight="bold" text-anchor="start" stroke="#000" stroke-width="0.5" textLength="129.20" lengthAdjust="spacingAndGlyphs" >Transplantation</text>
<text transform="translate(288.00,551.80) rotate(-90)" x="0" y="0" font-family="Liberation Serif" font-size="18.8" font-weight="bold" stroke="#000" stroke-width="0.5" textLength="188.00" lengthAdjust="spacingAndGlyphs">Percent Weight Change</text>
</g></svg></body></html>
